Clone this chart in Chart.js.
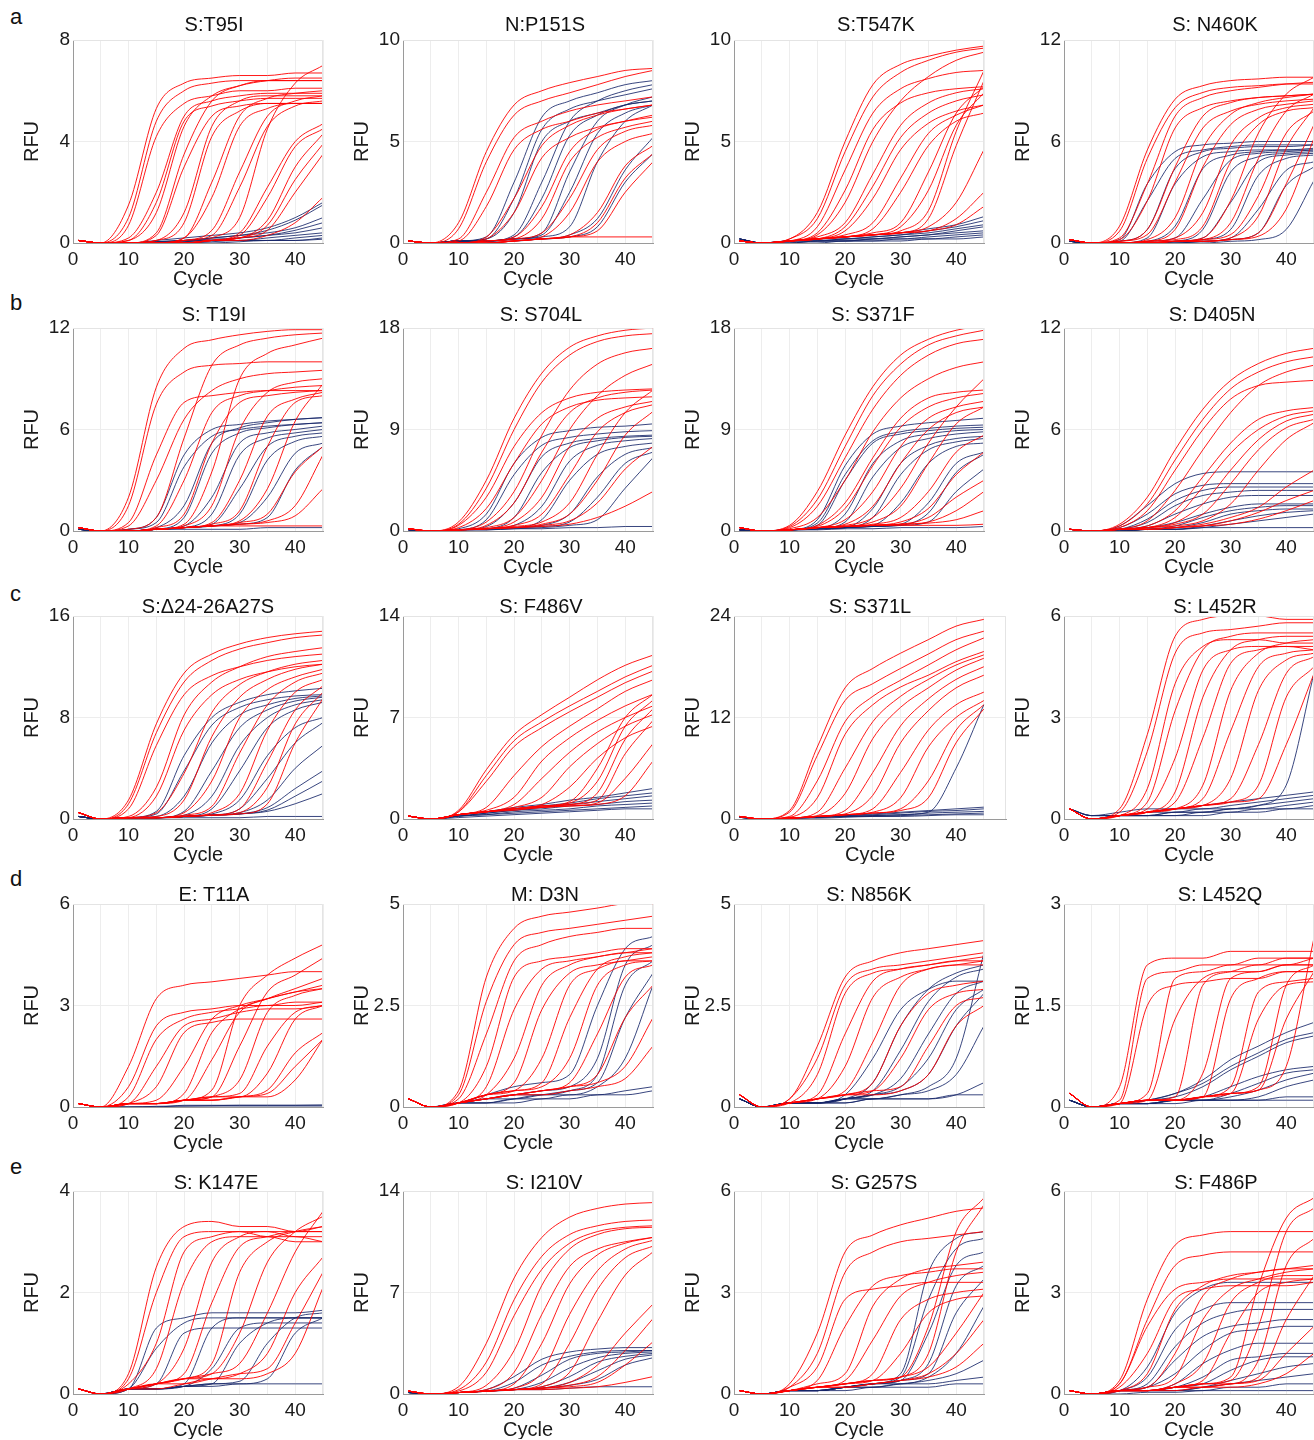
<!DOCTYPE html>
<html>
<head>
<meta charset="utf-8">
<script src="https://cdn.jsdelivr.net/npm/chart.js@4.4.0/dist/chart.umd.min.js"></script>
<style>
  body { margin: 0; background: #fff; font-family: "Liberation Sans", Arial, sans-serif; }
  #fig { position: relative; width: 1314px; height: 1440px; overflow: hidden; }
  #fig canvas { position: absolute; }
  .tag { position: absolute; font-size: 22px; color: #111; }
</style>
</head>
<body>
<div id="fig">
  <div class="tag" style="left:10px;top:4px">a</div>
  <div class="tag" style="left:10px;top:290px">b</div>
  <div class="tag" style="left:10px;top:581px">c</div>
  <div class="tag" style="left:10px;top:866px">d</div>
  <div class="tag" style="left:10px;top:1154px">e</div>
</div>
<script>
const cycles = [1, 5, 10, 15, 20, 25, 30, 35, 40, 45];

const titles = ['S:T95I', 'N:P151S', 'S:T547K', 'S: N460K',
  'S: T19I', 'S: S704L', 'S: S371F', 'S: D405N',
  'S:\u039424-26A27S', 'S: F486V', 'S: S371L', 'S: L452R',
  'E: T11A', 'M: D3N', 'S: N856K', 'S: L452Q',
  'S: K147E', 'S: I210V', 'S: G257S', 'S: F486P'];
const yMaxes = [8, 10, 10, 12, 12, 18, 18, 12, 16, 14, 24, 6, 6, 5, 5, 3, 4, 14, 6, 6];
const xTicks = [0, 10, 20, 30, 40];

// ---- row a ----
const t95iRed = [
  [0.1,0,1.5,5.3,6.3,6.5,6.6,6.6,6.7,6.7],
  [0.1,0,1.0,4.8,6.0,6.3,6.4,6.4,6.4,6.4],
  [0.1,0,0.7,4.2,5.5,5.8,6.0,6.0,6.1,6.1],
  [0.1,0,0.2,2.0,5.0,5.6,5.8,5.9,5.9,5.9],
  [0.1,0,0.1,1.6,4.8,5.4,5.6,5.7,5.7,5.7],
  [0.1,0,0.1,1.2,4.6,5.8,6.2,6.4,6.5,6.5],
  [0.1,0,0,0.4,3.5,5.6,6.2,6.4,6.4,6.4],
  [0.1,0,0,0.3,3.0,5.0,5.4,5.5,5.5,5.5],
  [0.1,0,0,0.1,1.2,4.6,5.6,5.8,5.8,5.8],
  [0.1,0,0,0.1,0.8,4.2,5.2,5.5,5.5,5.5],
  [0.1,0,0,0,0.2,2.4,5.0,5.7,5.9,6.0],
  [0.1,0,0,0,0.2,1.8,4.6,5.3,5.5,5.5],
  [0.1,0,0,0,0.1,0.5,2.8,5.0,5.6,5.8],
  [0.1,0,0,0,0.1,0.3,2.2,4.6,5.4,5.6],
  [0.1,0,0,0,0,0.2,1.0,4.5,6.3,7.0],
  [0.1,0,0,0,0,0.1,0.4,2.2,4.0,4.7],
  [0.1,0,0,0,0,0.1,0.3,1.8,3.8,4.5],
  [0.1,0,0,0,0,0.1,0.2,0.9,3.0,4.3],
  [0.1,0,0,0,0,0.1,0.2,0.7,2.5,3.9],
  [0.1,0,0,0,0,0.1,0.2,0.5,2.0,3.5],
  [0.1,0,0,0,0,0.1,0.1,0.3,0.8,1.8]
];
const t95iNavy = [
  [0.1,0,0,0.1,0.2,0.3,0.4,0.6,1.0,1.6],
  [0.1,0,0,0.05,0.1,0.2,0.3,0.5,0.9,1.5],
  [0.1,0,0,0.05,0.1,0.2,0.3,0.4,0.6,1.0],
  [0.1,0,0,0.05,0.1,0.15,0.2,0.3,0.5,0.8],
  [0.1,0,0,0,0.1,0.1,0.2,0.3,0.4,0.6],
  [0.1,0,0,0,0.05,0.1,0.1,0.2,0.3,0.4],
  [0.1,0,0,0,0.05,0.1,0.1,0.1,0.2,0.3],
  [0.1,0,0,0,0,0.05,0.1,0.1,0.1,0.2],
  [0.1,0,0,0,0,0,0.05,0.1,0.1,0.15]
];

const p151sRed = [
  [0.1,0,1.0,4.5,6.8,7.5,7.9,8.2,8.5,8.6],
  [0.1,0,0.7,4.0,6.3,7.0,7.4,7.8,8.2,8.5],
  [0.1,0,0.2,2.5,5.2,6.0,6.5,6.8,7.0,7.2],
  [0.1,0,0.1,1.8,4.6,5.6,6.0,6.4,6.6,6.8],
  [0.1,0,0,0.3,2.2,4.8,5.8,6.3,6.6,6.8],
  [0.1,0,0,0.2,1.5,4.2,5.2,5.7,6.0,6.2],
  [0.1,0,0,0.1,0.3,1.8,4.5,5.6,6.0,6.3],
  [0.1,0,0,0.1,0.2,1.2,4.0,5.2,5.7,6.0],
  [0.1,0,0,0.1,0.2,0.5,2.2,4.6,5.5,5.8],
  [0.1,0,0,0,0.1,0.3,1.5,4.0,5.0,5.4],
  [0.1,0,0,0,0.1,0.2,0.4,1.5,3.8,4.8],
  [0.1,0,0,0,0.1,0.2,0.3,1.0,3.2,4.4],
  [0.1,0,0,0,0.1,0.2,0.3,0.6,2.5,4.0],
  [0.1,0,0,0,0.1,0.2,0.3,0.3,0.3,0.3]
];
const p151sNavy = [
  [0.1,0,0.1,0.3,3.0,6.2,7.0,7.4,7.8,8.0],
  [0.1,0,0.1,0.2,2.2,5.6,6.6,7.0,7.3,7.6],
  [0.1,0,0.1,0.2,1.5,5.0,6.0,6.4,6.8,7.0],
  [0.1,0,0.1,0.1,0.4,3.0,6.0,7.0,7.5,7.8],
  [0.1,0,0.1,0.1,0.3,2.2,5.3,6.3,6.8,7.0],
  [0.1,0,0.1,0.1,0.2,0.5,3.5,6.0,6.8,7.2],
  [0.1,0,0.1,0.1,0.2,0.4,2.5,5.4,6.4,6.8],
  [0.1,0,0.1,0.1,0.2,0.3,0.8,4.0,6.0,6.8],
  [0.1,0,0.1,0.1,0.2,0.2,0.4,1.2,3.6,5.2],
  [0.1,0,0.1,0.1,0.1,0.2,0.3,0.8,3.0,4.4]
];

const t547kRed = [
  [0.1,0,0.2,1.5,5.0,7.8,8.8,9.2,9.5,9.7],
  [0.1,0,0.2,1.2,4.5,7.2,8.4,9.0,9.4,9.6],
  [0.1,0,0.1,0.8,3.6,6.4,7.6,8.1,8.4,8.5],
  [0.1,0,0.1,0.5,2.6,5.6,6.9,7.4,7.6,7.7],
  [0.1,0,0.1,0.4,2.0,5.0,7.0,8.2,9.0,9.4],
  [0.1,0,0.1,0.3,1.0,3.4,5.8,6.9,7.4,7.6],
  [0.1,0,0.1,0.2,0.8,2.8,5.2,6.4,7.0,7.3],
  [0.1,0,0.1,0.2,0.6,2.2,4.6,5.9,6.5,6.8],
  [0.1,0,0.1,0.2,0.4,1.0,3.2,5.4,6.3,6.8],
  [0.1,0,0.1,0.2,0.3,0.7,2.5,4.8,6.0,6.4],
  [0.1,0,0.1,0.2,0.3,0.5,1.0,3.5,6.4,7.7],
  [0.1,0,0.1,0.2,0.3,0.4,0.8,2.6,5.8,7.4],
  [0.1,0,0.1,0.2,0.3,0.4,0.6,1.6,5.5,8.5],
  [0.1,0,0.1,0.2,0.3,0.4,0.5,1.2,4.8,8.0],
  [0.1,0,0.1,0.2,0.3,0.4,0.5,0.8,2.0,4.6],
  [0.1,0,0.1,0.2,0.3,0.4,0.5,0.6,1.2,2.5],
  [0.1,0,0.1,0.2,0.3,0.4,0.5,0.6,0.9,1.8]
];
const t547kNavy = [
  [0.2,0,0.1,0.2,0.3,0.4,0.5,0.7,0.9,1.3],
  [0.2,0,0.1,0.2,0.2,0.3,0.4,0.6,0.8,1.1],
  [0.2,0,0.1,0.1,0.2,0.3,0.4,0.5,0.7,0.9],
  [0.2,0,0.1,0.1,0.2,0.2,0.3,0.4,0.6,0.8],
  [0.2,0,0.1,0.1,0.1,0.2,0.3,0.4,0.5,0.6],
  [0.2,0,0,0.1,0.1,0.2,0.2,0.3,0.4,0.5],
  [0.2,0,0,0.1,0.1,0.1,0.2,0.2,0.3,0.4],
  [0.2,0,0,0,0.1,0.1,0.1,0.2,0.2,0.3]
];

const n460kRed = [
  [0.2,0,1.0,5.5,8.5,9.3,9.6,9.7,9.8,9.8],
  [0.2,0,0.7,5.0,8.0,8.9,9.2,9.3,9.4,9.4],
  [0.2,0,0.3,3.5,7.5,8.6,9.0,9.2,9.4,9.5],
  [0.2,0,0.2,2.5,6.8,8.0,8.4,8.6,8.7,8.8],
  [0.2,0,0.1,0.8,4.5,7.5,8.3,8.6,8.7,8.8],
  [0.2,0,0.1,0.5,3.6,6.8,7.8,8.2,8.4,8.5],
  [0.2,0,0,0.2,1.5,5.6,7.6,8.3,8.6,8.8],
  [0.2,0,0,0.1,0.8,4.5,7.0,7.9,8.2,8.4],
  [0.2,0,0,0.1,0.3,1.8,5.8,7.4,8.0,8.2],
  [0.2,0,0,0.1,0.2,1.0,4.8,7.0,7.8,8.0],
  [0.2,0,0,0,0.1,0.3,2.5,6.5,8.8,9.8],
  [0.2,0,0,0,0.1,0.2,1.2,5.0,7.8,8.8],
  [0.2,0,0,0,0.1,0.2,0.5,2.8,6.5,7.8],
  [0.2,0,0,0,0.1,0.1,0.3,1.6,5.6,8.0],
  [0.2,0,0,0,0.1,0.1,0.2,0.6,3.5,7.0],
  [0.2,0,0,0,0.1,0.1,0.2,0.4,2.0,6.2]
];
const n460kNavy = [
  [0.1,0,0.2,3.5,5.4,5.8,5.9,6.0,6.0,6.0],
  [0.1,0,0.1,2.5,5.0,5.5,5.7,5.8,5.8,5.8],
  [0.1,0,0.1,0.8,4.4,5.4,5.6,5.7,5.7,5.8],
  [0.1,0,0,0.3,3.5,5.1,5.4,5.5,5.5,5.6],
  [0.1,0,0,0.1,1.0,4.4,5.2,5.4,5.5,5.5],
  [0.1,0,0,0.1,0.3,2.6,4.9,5.3,5.4,5.5],
  [0.1,0,0,0,0.1,0.8,4.2,5.1,5.3,5.4],
  [0.1,0,0,0,0.1,0.3,2.4,4.8,5.2,5.3],
  [0.1,0,0,0,0.1,0.2,0.8,4.0,5.0,5.2],
  [0.1,0,0,0,0,0.1,0.3,2.0,4.3,4.8],
  [0.1,0,0,0,0,0.1,0.2,0.6,3.4,4.5],
  [0.1,0,0,0,0,0,0.1,0.2,0.8,3.7]
];

// ---- row b ----
const t19iRed = [
  [0.2,0,2.0,8.5,10.8,11.3,11.6,11.8,11.9,11.9],
  [0.2,0,1.5,7.5,9.4,9.8,9.9,10.0,10.0,10.0],
  [0.2,0,0.5,4.5,7.6,8.0,8.2,8.3,8.3,8.3],
  [0.2,0,0.3,3.0,6.6,8.3,9.0,9.3,9.4,9.5],
  [0.2,0,0.1,0.8,5.5,9.8,11.0,11.4,11.6,11.7],
  [0.2,0,0,0.3,3.0,7.0,8.0,8.3,8.5,8.6],
  [0.2,0,0,0.2,1.0,5.2,7.6,8.0,8.2,8.3],
  [0.2,0,0,0.1,0.4,3.5,9.0,10.5,11.0,11.4],
  [0.2,0,0,0.1,0.3,1.5,6.0,8.2,8.8,9.0],
  [0.2,0,0,0.1,0.2,0.5,3.0,6.8,7.8,8.2],
  [0.2,0,0,0.1,0.2,0.4,1.2,5.0,7.6,8.0],
  [0.2,0,0,0.1,0.2,0.3,0.6,2.5,6.5,8.7],
  [0.2,0,0,0.1,0.2,0.3,0.5,1.0,3.5,5.0],
  [0.2,0,0,0.1,0.2,0.3,0.4,0.6,1.5,4.5],
  [0.2,0,0,0.1,0.2,0.3,0.4,0.5,0.9,2.5],
  [0.2,0,0,0.1,0.2,0.3,0.3,0.3,0.3,0.3]
];
const t19iNavy = [
  [0.1,0,0.1,0.8,4.5,6.0,6.3,6.5,6.6,6.7],
  [0.1,0,0.1,0.5,3.8,5.6,6.0,6.2,6.3,6.4],
  [0.1,0,0,0.2,1.5,5.2,6.1,6.4,6.6,6.7],
  [0.1,0,0,0.1,0.8,4.6,5.8,6.1,6.3,6.4],
  [0.1,0,0,0.1,0.3,2.0,5.2,5.8,6.0,6.2],
  [0.1,0,0,0.1,0.2,1.0,4.5,5.5,5.8,6.0],
  [0.1,0,0,0.1,0.2,0.4,2.5,5.0,5.6,5.8],
  [0.1,0,0,0.1,0.2,0.3,1.0,4.2,5.3,5.6],
  [0.1,0,0,0.1,0.2,0.3,0.5,2.0,4.6,5.2],
  [0.1,0,0,0.1,0.2,0.3,0.4,0.8,3.6,5.0],
  [0.1,0,0,0.1,0.1,0.1,0.1,0.2,0.2,0.2]
];

const s704lRed = [
  [0.2,0,0.8,4.5,10.0,14.0,16.3,17.3,17.8,18.0],
  [0.2,0,0.6,3.8,9.0,13.2,15.6,16.8,17.3,17.5],
  [0.2,0,0.5,3.0,7.5,10.5,11.8,12.3,12.5,12.6],
  [0.2,0,0.3,2.0,6.0,9.5,11.0,11.6,11.8,11.9],
  [0.2,0,0.1,0.8,3.5,8.5,12.5,14.8,15.8,16.2],
  [0.2,0,0.1,0.5,2.5,7.0,10.5,11.8,12.3,12.5],
  [0.2,0,0.1,0.3,1.2,4.5,9.0,12.0,13.8,14.8],
  [0.2,0,0.1,0.2,0.8,3.0,7.5,10.0,11.0,11.5],
  [0.2,0,0.1,0.2,0.5,1.5,5.0,8.8,10.5,11.2],
  [0.2,0,0.1,0.2,0.4,0.8,2.5,6.8,10.5,12.5],
  [0.2,0,0.1,0.2,0.3,0.6,1.5,4.5,8.5,10.6],
  [0.2,0,0.1,0.2,0.3,0.5,0.9,2.5,5.5,7.5],
  [0.2,0,0.1,0.2,0.3,0.4,0.6,1.2,2.2,3.5]
];
const s704lNavy = [
  [0.1,0,0.2,1.5,6.0,8.3,8.9,9.2,9.3,9.5],
  [0.1,0,0.1,1.0,5.0,7.6,8.3,8.6,8.8,8.9],
  [0.1,0,0.1,0.4,2.5,6.6,7.8,8.2,8.4,8.5],
  [0.1,0,0.1,0.2,1.2,5.2,7.4,8.0,8.3,8.4],
  [0.1,0,0.1,0.2,0.5,2.2,6.2,7.6,8.0,8.2],
  [0.1,0,0.1,0.2,0.3,1.0,4.5,6.8,7.5,7.8],
  [0.1,0,0.1,0.2,0.3,0.5,1.5,4.8,6.8,7.4],
  [0.1,0,0.1,0.2,0.3,0.4,0.8,3.0,6.0,7.0],
  [0.1,0,0.1,0.1,0.2,0.3,0.5,1.0,3.8,6.5],
  [0.1,0,0.1,0.1,0.2,0.2,0.3,0.3,0.4,0.4]
];

const s371fRed = [
  [0.3,0,0.5,3.5,8.5,12.8,15.6,17.0,17.8,18.2],
  [0.3,0,0.4,2.8,7.5,12.0,14.8,16.5,17.3,17.8],
  [0.3,0,0.3,2.2,6.5,10.8,13.8,15.6,16.6,17.0],
  [0.3,0,0.2,1.2,4.5,8.8,11.8,13.5,14.5,15.0],
  [0.3,0,0.1,0.5,2.5,6.5,10.0,11.8,12.3,12.5],
  [0.3,0,0.1,0.4,2.0,5.8,9.2,11.0,11.8,12.2],
  [0.3,0,0.1,0.3,1.0,3.5,7.5,10.0,11.0,11.5],
  [0.3,0,0.1,0.3,0.6,2.2,6.0,9.0,10.5,11.0],
  [0.3,0,0.1,0.3,0.5,1.2,3.8,7.8,11.0,13.5],
  [0.3,0,0.1,0.3,0.4,0.8,2.2,6.0,9.5,11.0],
  [0.3,0,0.1,0.3,0.4,0.6,1.2,3.5,7.0,8.5],
  [0.3,0,0.1,0.3,0.4,0.5,0.8,2.0,5.0,7.0],
  [0.3,0,0.1,0.3,0.4,0.5,0.6,1.2,3.0,4.5],
  [0.3,0,0.1,0.3,0.4,0.5,0.6,0.8,1.8,3.5],
  [0.3,0,0.1,0.3,0.4,0.5,0.6,0.7,1.0,1.8],
  [0.3,0,0.1,0.3,0.4,0.5,0.5,0.5,0.5,0.6]
];
const s371fNavy = [
  [0.1,0,0.1,1.0,5.8,8.6,9.3,9.6,9.8,10.0],
  [0.1,0,0.1,0.7,5.0,8.0,8.8,9.1,9.3,9.4],
  [0.1,0,0.1,0.5,4.5,7.8,8.6,8.9,9.1,9.2],
  [0.1,0,0.1,0.2,1.5,6.0,8.0,8.6,8.9,9.0],
  [0.1,0,0.1,0.2,0.8,4.8,7.4,8.2,8.6,8.8],
  [0.1,0,0.1,0.2,0.3,2.0,6.0,7.6,8.2,8.4],
  [0.1,0,0.1,0.2,0.3,1.2,5.0,7.2,7.9,8.2],
  [0.1,0,0.1,0.2,0.3,0.5,2.5,6.0,7.5,7.8],
  [0.1,0,0.1,0.2,0.3,0.4,0.6,2.5,6.0,7.0],
  [0.1,0,0.1,0.2,0.3,0.4,0.5,1.6,5.2,6.8],
  [0.1,0,0.1,0.2,0.3,0.4,0.5,0.8,3.5,5.5],
  [0.1,0,0.1,0.1,0.2,0.2,0.3,0.3,0.3,0.4]
];

const d405nRed = [
  [0.1,0,0.4,2.0,4.8,7.2,8.9,9.9,10.5,10.8],
  [0.1,0,0.3,1.6,4.2,6.6,8.4,9.4,10.0,10.3],
  [0.1,0,0.2,1.2,3.6,6.0,7.8,8.6,8.8,8.9],
  [0.1,0,0.1,0.6,2.4,4.8,7.0,8.6,9.4,9.8],
  [0.1,0,0.1,0.3,1.2,3.2,5.2,6.6,7.1,7.3],
  [0.1,0,0.1,0.2,0.8,2.6,4.6,6.0,6.8,7.1],
  [0.1,0,0.1,0.2,0.5,1.6,3.6,5.4,6.5,6.9],
  [0.1,0,0.1,0.2,0.4,1.0,2.8,4.8,6.1,6.6],
  [0.1,0,0.1,0.2,0.3,0.6,1.6,3.6,5.4,6.4],
  [0.1,0,0.1,0.1,0.2,0.4,0.8,1.4,2.6,3.6],
  [0.1,0,0.1,0.1,0.2,0.3,0.6,1.1,1.8,2.4],
  [0.1,0,0.1,0.1,0.2,0.3,0.4,0.7,1.2,1.8]
];
const d405nNavy = [
  [0.1,0,0.3,1.5,2.8,3.4,3.5,3.5,3.5,3.5],
  [0.1,0,0.2,1.0,2.2,2.7,2.8,2.8,2.8,2.8],
  [0.1,0,0.1,0.7,1.8,2.4,2.6,2.6,2.6,2.6],
  [0.1,0,0.1,0.5,1.5,2.1,2.3,2.4,2.4,2.4],
  [0.1,0,0.1,0.3,1.0,1.6,2.0,2.1,2.1,2.1],
  [0.1,0,0.1,0.2,0.5,1.0,1.4,1.6,1.6,1.6],
  [0.1,0,0,0.1,0.3,0.8,1.2,1.4,1.5,1.5],
  [0.1,0,0,0.1,0.2,0.5,1.0,1.2,1.3,1.3],
  [0.1,0,0,0.1,0.1,0.3,0.6,0.9,1.1,1.2],
  [0.1,0,0,0.1,0.1,0.2,0.4,0.6,0.8,1.0],
  [0.1,0,0,0.1,0.1,0.2,0.2,0.2,0.2,0.2]
];

// ---- row c ----
const del24Red = [
  [0.5,0,1.5,7.5,11.5,13.0,13.8,14.3,14.6,14.8],
  [0.5,0,1.2,6.8,10.8,12.5,13.4,13.9,14.3,14.5],
  [0.5,0,0.8,5.8,9.8,11.3,12.0,12.5,12.8,13.0],
  [0.5,0,0.2,2.5,8.2,10.8,12.0,12.8,13.2,13.5],
  [0.5,0,0.1,1.8,7.0,9.8,11.0,11.6,12.0,12.2],
  [0.5,0,0.1,0.5,3.6,8.4,10.6,11.6,12.2,12.5],
  [0.5,0,0.1,0.2,1.5,6.5,9.6,11.0,11.8,12.2],
  [0.5,0,0.1,0.1,0.5,3.0,8.0,10.2,11.2,11.8],
  [0.5,0,0.1,0.1,0.3,1.0,5.2,9.0,10.8,11.5],
  [0.5,0,0.1,0.1,0.2,0.5,2.0,7.0,10.0,11.0],
  [0.5,0,0.1,0.1,0.2,0.3,0.8,4.5,8.6,10.5],
  [0.5,0,0.1,0.1,0.2,0.3,0.5,2.5,7.5,10.0],
  [0.5,0,0.1,0.1,0.2,0.3,0.4,1.2,6.0,9.5]
];
const del24Navy = [
  [0.2,0,0.1,0.6,5.0,8.0,9.2,9.8,10.1,10.3],
  [0.2,0,0.1,0.4,3.8,7.4,8.8,9.4,9.7,9.8],
  [0.2,0,0.1,0.2,1.8,6.0,8.2,9.0,9.5,9.7],
  [0.2,0,0.1,0.1,0.6,3.8,7.2,8.6,9.3,9.6],
  [0.2,0,0.1,0.1,0.3,1.8,5.8,8.0,9.0,9.4],
  [0.2,0,0.1,0.1,0.2,0.8,3.8,7.2,8.6,9.2],
  [0.2,0,0.1,0.1,0.2,0.4,1.5,5.0,7.2,8.0],
  [0.2,0,0.1,0.1,0.2,0.3,0.8,3.2,6.0,7.6],
  [0.2,0,0.1,0.1,0.2,0.3,0.5,1.5,4.0,5.8],
  [0.2,0,0.1,0.1,0.2,0.3,0.4,0.9,2.4,3.8],
  [0.2,0,0.1,0.1,0.2,0.3,0.4,0.7,1.8,3.0],
  [0.2,0,0.1,0.1,0.2,0.3,0.4,0.6,1.2,2.0],
  [0.2,0,0.1,0.1,0.1,0.1,0.1,0.2,0.2,0.2]
];

const f486vRed = [
  [0.2,0,0.6,3.4,5.8,7.2,8.4,9.6,10.6,11.3],
  [0.2,0,0.5,3.0,5.4,6.7,7.8,8.8,9.8,10.6],
  [0.2,0,0.5,2.6,5.0,6.3,7.4,8.4,9.4,10.2],
  [0.2,0,0.3,0.8,3.0,5.0,6.4,7.6,8.8,9.6],
  [0.2,0,0.3,0.6,1.5,4.0,5.6,6.8,7.8,8.6],
  [0.2,0,0.3,0.5,1.0,2.8,4.6,6.0,7.0,7.8],
  [0.2,0,0.3,0.5,0.8,1.5,3.6,5.2,6.4,7.2],
  [0.2,0,0.3,0.5,0.7,1.0,2.2,4.2,5.6,6.4],
  [0.2,0,0.3,0.5,0.7,0.9,1.2,3.5,7.0,8.6],
  [0.2,0,0.3,0.5,0.7,0.9,1.1,2.6,6.4,8.2],
  [0.2,0,0.3,0.5,0.7,0.9,1.0,1.8,5.5,7.6],
  [0.2,0,0.3,0.5,0.7,0.8,1.0,1.3,4.5,6.8],
  [0.2,0,0.3,0.5,0.7,0.8,0.9,1.1,2.8,5.2],
  [0.2,0,0.3,0.5,0.6,0.8,0.9,1.0,1.6,4.0]
];
const f486vNavy = [
  [0.2,0,0.3,0.5,0.8,1.0,1.3,1.5,1.8,2.1],
  [0.2,0,0.3,0.5,0.7,0.9,1.1,1.4,1.6,1.8],
  [0.2,0,0.2,0.4,0.6,0.8,1.0,1.2,1.4,1.6],
  [0.2,0,0.2,0.4,0.6,0.7,0.9,1.0,1.2,1.3],
  [0.2,0,0.2,0.3,0.5,0.6,0.7,0.9,1.0,1.1],
  [0.2,0,0.2,0.3,0.4,0.5,0.6,0.7,0.8,0.9],
  [0.2,0,0.1,0.2,0.3,0.4,0.5,0.6,0.7,0.7]
];

const s371lRed = [
  [0.3,0,1.0,8.5,15.5,17.8,19.6,21.2,22.8,23.6],
  [0.3,0,0.8,7.5,14.0,16.0,17.8,19.5,21.2,22.2],
  [0.3,0,0.3,4.5,11.5,14.5,16.4,18.2,20.0,21.4],
  [0.3,0,0.2,2.5,10.0,13.5,15.6,17.0,18.6,19.8],
  [0.3,0,0.1,0.8,6.0,11.5,14.5,16.5,18.2,19.4],
  [0.3,0,0.1,0.4,3.0,9.5,13.2,15.5,17.6,19.0],
  [0.3,0,0.1,0.3,1.0,5.5,11.0,14.2,16.5,18.0],
  [0.3,0,0.1,0.3,0.6,2.8,9.0,12.8,15.5,17.0],
  [0.3,0,0.1,0.3,0.5,1.2,5.5,10.5,13.5,15.0],
  [0.3,0,0.1,0.3,0.5,0.8,2.5,8.5,12.0,14.0],
  [0.3,0,0.1,0.3,0.5,0.7,1.2,4.5,10.5,13.5],
  [0.3,0,0.1,0.3,0.5,0.7,1.0,2.5,9.0,13.0]
];
const s371lNavy = [
  [0.2,0,0.1,0.3,0.4,0.6,0.8,1.0,1.2,1.4],
  [0.2,0,0.1,0.2,0.4,0.5,0.7,0.9,1.0,1.2],
  [0.2,0,0.1,0.2,0.3,0.4,0.5,0.7,0.8,0.9],
  [0.2,0,0.1,0.2,0.3,0.3,0.4,0.5,0.6,0.7],
  [0.2,0,0.1,0.1,0.2,0.3,0.3,0.4,0.5,0.5],
  [0.2,0,0.1,0.2,0.3,0.4,0.5,0.8,6.0,13.5]
];

const l452rRed = [
  [0.3,0,0.3,2.5,5.4,5.9,6.0,6.0,5.9,5.9],
  [0.3,0,0.2,2.0,4.9,5.5,5.6,5.7,5.8,5.8],
  [0.3,0,0.1,0.9,4.0,5.1,5.3,5.3,5.2,5.2],
  [0.3,0,0.1,0.5,3.2,5.0,5.4,5.5,5.5,5.5],
  [0.3,0,0.1,0.3,1.8,4.4,5.0,5.1,5.1,5.0],
  [0.3,0,0.1,0.2,0.8,3.6,5.0,5.3,5.4,5.4],
  [0.3,0,0.1,0.2,0.5,2.4,4.6,5.0,5.1,5.1],
  [0.3,0,0.1,0.2,0.3,1.0,3.8,4.9,5.2,5.3],
  [0.3,0,0.1,0.2,0.3,0.6,2.6,4.5,4.9,5.0],
  [0.3,0,0.1,0.2,0.3,0.4,1.2,3.8,4.7,4.9],
  [0.3,0,0.1,0.2,0.3,0.4,0.6,2.2,4.3,4.8],
  [0.3,0,0.1,0.2,0.3,0.4,0.5,1.0,3.6,4.5],
  [0.3,0,0.1,0.2,0.3,0.4,0.5,0.6,2.2,4.3]
];
const l452rNavy = [
  [0.3,0.1,0.2,0.3,0.3,0.4,0.5,0.6,0.7,0.8],
  [0.3,0.1,0.1,0.2,0.3,0.3,0.4,0.5,0.6,0.7],
  [0.3,0.1,0.1,0.2,0.2,0.3,0.3,0.4,0.5,0.6],
  [0.3,0.1,0.1,0.1,0.2,0.2,0.3,0.3,0.4,0.5],
  [0.3,0,0.1,0.1,0.1,0.2,0.2,0.3,0.3,0.4],
  [0.3,0,0.1,0.1,0.1,0.1,0.2,0.2,0.3,0.3],
  [0.3,0,0.1,0.1,0.2,0.2,0.3,0.4,1.0,4.3]
];

// ---- row d ----
const t11aRed = [
  [0.1,0,1.2,3.2,3.6,3.7,3.8,3.9,4.0,4.0],
  [0.1,0,0.6,2.4,2.8,2.9,3.0,3.0,3.1,3.1],
  [0.1,0,0.3,2.0,2.6,2.8,2.9,3.0,3.0,3.1],
  [0.1,0,0.1,1.2,2.4,2.6,2.8,2.9,2.9,3.0],
  [0.1,0,0.1,0.6,2.2,2.5,2.6,2.6,2.6,2.6],
  [0.1,0,0.1,0.2,1.2,2.6,3.0,3.2,3.4,3.5],
  [0.1,0,0.1,0.1,0.4,2.2,2.9,3.2,3.4,3.6],
  [0.1,0,0.1,0.1,0.2,1.4,2.8,3.2,3.5,3.8],
  [0.1,0,0.1,0.1,0.2,0.5,3.0,3.9,4.4,4.8],
  [0.1,0,0.1,0.1,0.2,0.3,1.8,3.4,3.9,4.4],
  [0.1,0,0.1,0.1,0.2,0.3,0.8,2.8,3.3,3.5],
  [0.1,0,0.1,0.1,0.2,0.3,0.4,1.8,2.8,3.0],
  [0.1,0,0.1,0.1,0.2,0.3,0.3,1.0,2.6,3.0],
  [0.1,0,0.1,0.1,0.2,0.2,0.3,0.5,1.6,2.2],
  [0.1,0,0.1,0.1,0.2,0.2,0.3,0.4,1.2,2.0],
  [0.1,0,0.1,0.1,0.2,0.2,0.3,0.3,0.8,2.0]
];
const t11aNavy = [
  [0.1,0,0,0,0.05,0.05,0.05,0.05,0.05,0.05],
  [0.1,0,0,0,0,0,0,0,0,0],
  [0.1,0,0,0.02,0.03,0.04,0.05,0.05,0.05,0.06]
];

const d3nRed = [
  [0.2,0,0.4,3.2,4.4,4.7,4.8,4.9,5.0,5.0],
  [0.2,0,0.3,2.6,4.0,4.3,4.4,4.5,4.6,4.7],
  [0.2,0,0.2,1.8,3.6,4.0,4.2,4.3,4.4,4.4],
  [0.2,0,0.1,1.0,3.2,3.6,3.7,3.8,3.9,3.9],
  [0.2,0,0.1,0.5,2.4,3.4,3.6,3.7,3.8,3.8],
  [0.2,0,0.1,0.3,1.2,3.0,3.5,3.7,3.8,3.9],
  [0.2,0,0.1,0.3,0.6,2.4,3.3,3.5,3.6,3.7],
  [0.2,0,0.1,0.3,0.4,1.2,3.0,3.4,3.6,3.6],
  [0.2,0,0.1,0.3,0.4,0.6,2.2,3.4,3.7,3.8],
  [0.2,0,0.1,0.3,0.4,0.5,1.2,3.0,3.5,3.6],
  [0.2,0,0.1,0.2,0.3,0.4,0.6,1.8,3.2,3.5],
  [0.2,0,0.1,0.2,0.3,0.4,0.5,0.8,2.2,3.0],
  [0.2,0,0.1,0.2,0.3,0.4,0.5,0.6,1.0,2.2],
  [0.2,0,0.1,0.2,0.3,0.3,0.4,0.5,0.7,1.5]
];
const d3nNavy = [
  [0.2,0,0.1,0.3,0.5,0.6,0.8,2.5,3.9,4.2],
  [0.2,0,0.1,0.2,0.3,0.4,0.5,1.2,3.5,4.0],
  [0.2,0,0.1,0.2,0.3,0.3,0.4,0.8,3.0,3.6],
  [0.2,0,0.1,0.2,0.2,0.3,0.4,0.6,2.2,3.3],
  [0.2,0,0.1,0.1,0.2,0.3,0.3,0.5,1.2,3.0],
  [0.2,0,0.1,0.1,0.2,0.2,0.3,0.3,0.4,0.5],
  [0.2,0,0.1,0.1,0.1,0.2,0.2,0.3,0.3,0.4]
];

const n856kRed = [
  [0.3,0,0.2,1.5,3.2,3.6,3.8,3.9,4.0,4.1],
  [0.3,0,0.2,1.2,3.0,3.4,3.5,3.6,3.7,3.8],
  [0.3,0,0.1,0.8,2.8,3.3,3.4,3.5,3.6,3.7],
  [0.3,0,0.1,0.3,1.8,3.1,3.4,3.5,3.6,3.6],
  [0.3,0,0.1,0.2,1.0,2.7,3.2,3.4,3.5,3.5],
  [0.3,0,0.1,0.2,0.4,1.6,3.0,3.4,3.5,3.6],
  [0.3,0,0.1,0.2,0.3,0.6,2.0,2.8,3.0,3.1],
  [0.3,0,0.1,0.2,0.3,0.4,1.2,2.4,2.8,2.9],
  [0.3,0,0.1,0.2,0.3,0.4,0.5,1.5,2.5,2.7],
  [0.3,0,0.1,0.2,0.3,0.3,0.4,0.8,2.0,2.5]
];
const n856kNavy = [
  [0.2,0,0.1,0.1,0.3,1.2,2.4,2.9,3.1,3.1],
  [0.2,0,0.1,0.1,0.2,0.6,2.0,2.9,3.3,3.5],
  [0.2,0,0.1,0.1,0.2,0.4,1.4,2.6,3.2,3.4],
  [0.2,0,0.1,0.1,0.2,0.3,0.7,1.8,2.8,3.1],
  [0.2,0,0.1,0.1,0.2,0.3,0.5,1.2,2.4,2.9],
  [0.2,0,0.1,0.1,0.2,0.3,0.4,0.8,2.0,2.8],
  [0.2,0,0.1,0.1,0.2,0.2,0.3,0.5,1.2,3.8],
  [0.2,0,0.1,0.1,0.2,0.2,0.3,0.4,0.8,2.0],
  [0.2,0,0.1,0.1,0.1,0.2,0.2,0.2,0.3,0.6],
  [0.2,0,0.1,0.1,0.1,0.2,0.2,0.2,0.3,0.3]
];

const l452qRed = [
  [0.2,0,0.3,2.1,2.2,2.2,2.3,2.3,2.3,2.3],
  [0.2,0,0.1,1.9,2.0,2.1,2.1,2.2,2.2,2.2],
  [0.2,0,0.05,1.5,1.8,1.85,1.9,1.9,2.0,2.0],
  [0.2,0,0.05,0.2,1.9,2.0,2.1,2.1,2.2,2.2],
  [0.2,0,0.05,0.1,1.3,1.9,2.0,2.0,2.1,2.1],
  [0.2,0,0.05,0.1,0.15,1.8,2.0,2.1,2.1,2.2],
  [0.2,0,0.05,0.1,0.1,0.5,1.9,2.0,2.1,2.1],
  [0.2,0,0.05,0.1,0.1,0.15,1.6,1.9,2.0,2.0],
  [0.2,0,0.05,0.1,0.1,0.15,0.3,1.7,1.85,1.9],
  [0.2,0,0.05,0.1,0.1,0.15,0.2,1.3,1.8,1.85],
  [0.2,0,0.05,0.1,0.1,0.15,0.2,0.3,1.8,2.1],
  [0.2,0,0.05,0.1,0.1,0.15,0.2,0.25,1.3,2.0],
  [0.2,0,0.05,0.1,0.1,0.15,0.2,0.25,0.6,2.5]
];
const l452qNavy = [
  [0.1,0,0.05,0.1,0.2,0.4,0.7,0.9,1.1,1.25],
  [0.1,0,0.05,0.1,0.2,0.35,0.6,0.8,1.0,1.1],
  [0.1,0,0.05,0.1,0.15,0.3,0.55,0.75,0.95,1.05],
  [0.1,0,0.05,0.05,0.1,0.15,0.3,0.45,0.55,0.6],
  [0.1,0,0.05,0.05,0.1,0.1,0.2,0.35,0.5,0.55],
  [0.1,0,0.05,0.05,0.1,0.1,0.15,0.25,0.4,0.5],
  [0.1,0,0.05,0.05,0.1,0.1,0.1,0.15,0.3,0.4],
  [0.1,0,0.05,0.05,0.1,0.1,0.1,0.1,0.15,0.15],
  [0.1,0,0.05,0.05,0.05,0.1,0.1,0.1,0.1,0.1]
];

// ---- row e ----
const k147eRed = [
  [0.1,0,0.4,2.5,3.3,3.4,3.3,3.3,3.2,3.2],
  [0.1,0,0.3,2.0,3.1,3.2,3.2,3.1,3.1,3.0],
  [0.1,0,0.2,1.0,2.8,3.1,3.2,3.2,3.1,3.1],
  [0.1,0,0.1,0.5,2.2,3.0,3.1,3.1,3.0,3.0],
  [0.1,0,0.1,0.2,0.9,2.6,3.1,3.2,3.2,3.3],
  [0.1,0,0.1,0.2,0.4,1.8,2.9,3.1,3.2,3.2],
  [0.1,0,0.1,0.2,0.3,0.6,2.4,3.0,3.2,3.3],
  [0.1,0,0.1,0.2,0.3,0.4,1.2,2.6,3.2,3.5],
  [0.1,0,0.1,0.2,0.3,0.4,0.6,1.6,2.8,3.6],
  [0.1,0,0.1,0.2,0.3,0.3,0.4,0.8,2.0,2.7],
  [0.1,0,0.1,0.2,0.2,0.3,0.4,0.5,1.4,2.4],
  [0.1,0,0.1,0.1,0.2,0.3,0.3,0.4,0.8,2.1]
];
const k147eNavy = [
  [0.1,0,0.1,1.3,1.5,1.6,1.6,1.6,1.6,1.65],
  [0.1,0,0.1,0.9,1.4,1.5,1.5,1.5,1.5,1.5],
  [0.1,0,0.1,0.2,1.2,1.3,1.3,1.3,1.3,1.3],
  [0.1,0,0.1,0.1,0.2,1.3,1.5,1.5,1.5,1.5],
  [0.1,0,0.1,0.1,0.15,0.5,1.3,1.4,1.4,1.4],
  [0.1,0,0.1,0.1,0.15,0.2,1.0,1.4,1.5,1.5],
  [0.1,0,0.1,0.1,0.15,0.2,0.25,1.0,1.5,1.6],
  [0.1,0,0.1,0.1,0.15,0.2,0.2,0.3,1.2,1.5],
  [0.1,0,0.1,0.1,0.15,0.15,0.2,0.2,0.2,0.2]
];

const i210vRed = [
  [0.2,0,0.5,3.5,8.0,10.8,12.2,12.8,13.1,13.2],
  [0.2,0,0.3,2.2,6.5,9.5,11.0,11.6,11.9,12.0],
  [0.2,0,0.2,1.5,5.4,8.6,10.4,11.2,11.5,11.6],
  [0.2,0,0.1,0.6,3.0,7.5,10.0,11.0,11.4,11.5],
  [0.2,0,0.1,0.3,1.5,5.5,8.8,10.0,10.5,10.8],
  [0.2,0,0.1,0.2,0.7,3.5,7.6,9.6,10.4,10.8],
  [0.2,0,0.1,0.2,0.4,1.5,5.5,8.5,10.0,10.6],
  [0.2,0,0.1,0.2,0.3,0.7,3.5,7.2,9.4,10.2],
  [0.2,0,0.1,0.2,0.3,0.5,1.5,5.0,8.2,9.8],
  [0.2,0,0.1,0.2,0.3,0.4,0.8,2.0,4.2,6.2],
  [0.2,0,0.1,0.2,0.3,0.4,0.6,1.2,3.0,5.2],
  [0.2,0,0.1,0.2,0.3,0.4,0.5,0.8,2.0,3.6],
  [0.2,0,0.1,0.2,0.3,0.3,0.4,0.5,0.8,1.2]
];
const i210vNavy = [
  [0.1,0,0.1,0.3,1.2,2.4,2.9,3.1,3.2,3.2],
  [0.1,0,0.1,0.2,0.8,2.0,2.6,2.9,3.0,3.0],
  [0.1,0,0.1,0.2,0.4,1.3,2.4,2.8,2.9,3.0],
  [0.1,0,0.1,0.2,0.3,0.8,1.8,2.5,2.8,2.9],
  [0.1,0,0.1,0.2,0.3,0.5,1.2,2.2,2.6,2.8],
  [0.1,0,0.1,0.2,0.3,0.4,0.8,1.6,2.4,2.7],
  [0.1,0,0.1,0.2,0.3,0.4,0.6,1.0,2.0,2.5],
  [0.1,0,0.1,0.2,0.3,0.3,0.4,0.5,0.5,0.5]
];

const g257sRed = [
  [0.1,0,0.3,1.8,4.2,4.7,5.0,5.2,5.4,5.5],
  [0.1,0,0.2,1.2,3.6,4.2,4.5,4.6,4.7,4.8],
  [0.1,0,0.2,0.8,2.8,3.1,3.2,3.3,3.3,3.3],
  [0.1,0,0.1,0.4,2.0,3.2,3.5,3.6,3.7,3.7],
  [0.1,0,0.1,0.3,0.6,2.6,3.4,3.7,3.8,3.9],
  [0.1,0,0.1,0.2,0.4,1.6,2.9,3.3,3.5,3.6],
  [0.1,0,0.1,0.2,0.3,0.6,2.2,2.8,3.0,3.1],
  [0.1,0,0.1,0.2,0.3,0.4,1.2,2.4,2.8,2.9],
  [0.1,0,0.1,0.2,0.3,0.4,0.5,2.0,4.8,5.8],
  [0.1,0,0.1,0.2,0.3,0.4,0.5,1.2,4.2,5.6],
  [0.1,0,0.1,0.2,0.3,0.4,0.5,0.8,1.8,3.0],
  [0.1,0,0.1,0.2,0.2,0.3,0.4,0.6,1.2,2.2],
  [0.1,0,0.1,0.2,0.2,0.3,0.4,0.5,0.8,1.5]
];
const g257sNavy = [
  [0.1,0,0.1,0.1,0.2,0.3,0.6,3.6,4.6,4.8],
  [0.1,0,0.1,0.1,0.2,0.3,0.5,2.8,4.3,4.6],
  [0.1,0,0.1,0.1,0.2,0.3,0.4,1.8,3.8,4.2],
  [0.1,0,0.1,0.1,0.2,0.3,0.4,0.9,3.2,3.8],
  [0.1,0,0.1,0.1,0.2,0.3,0.4,0.6,2.4,3.4],
  [0.1,0,0.1,0.1,0.2,0.3,0.3,0.5,1.2,2.6],
  [0.1,0,0.1,0.1,0.2,0.2,0.3,0.4,0.6,1.0],
  [0.1,0,0.1,0.1,0.2,0.2,0.3,0.3,0.4,0.5],
  [0.1,0,0.1,0.1,0.1,0.2,0.2,0.2,0.3,0.3]
];

const f486pRed = [
  [0.1,0,0.4,2.8,4.4,4.7,4.8,4.8,4.8,4.8],
  [0.1,0,0.3,2.2,3.8,4.1,4.2,4.2,4.2,4.2],
  [0.1,0,0.3,2.0,3.1,3.3,3.4,3.4,3.4,3.4],
  [0.1,0,0.2,1.2,2.8,3.1,3.2,3.2,3.2,3.3],
  [0.1,0,0.1,0.6,2.5,3.2,3.5,3.6,3.7,3.7],
  [0.1,0,0.1,0.2,1.2,2.9,3.4,3.6,3.7,3.8],
  [0.1,0,0.1,0.2,0.5,2.2,3.1,3.4,3.6,3.7],
  [0.1,0,0.1,0.1,0.3,0.9,2.7,3.3,3.5,3.5],
  [0.1,0,0.1,0.1,0.2,0.4,1.8,3.0,3.3,3.4],
  [0.1,0,0.1,0.1,0.2,0.3,0.5,3.2,5.2,5.8],
  [0.1,0,0.1,0.1,0.2,0.3,0.4,2.0,4.8,5.5],
  [0.1,0,0.1,0.1,0.2,0.3,0.3,1.0,3.8,4.6],
  [0.1,0,0.1,0.1,0.2,0.2,0.3,0.5,2.2,3.5],
  [0.1,0,0.1,0.1,0.2,0.2,0.3,0.4,1.2,2.0],
  [0.1,0,0.1,0.1,0.1,0.2,0.2,0.3,0.6,1.2]
];
const f486pNavy = [
  [0.1,0,0.1,0.8,2.4,3.1,3.3,3.3,3.3,3.3],
  [0.1,0,0.1,0.5,1.9,2.5,2.7,2.7,2.7,2.7],
  [0.1,0,0.1,0.3,1.4,2.1,2.4,2.5,2.5,2.5],
  [0.1,0,0.1,0.2,1.0,1.7,2.0,2.1,2.2,2.2],
  [0.1,0,0.1,0.2,0.6,1.3,1.8,1.9,2.0,2.0],
  [0.1,0,0.1,0.1,0.3,0.9,1.3,1.5,1.5,1.5],
  [0.1,0,0.1,0.1,0.2,0.5,1.0,1.1,1.2,1.2],
  [0.1,0,0.1,0.1,0.2,0.3,0.7,1.0,1.1,1.1],
  [0.1,0,0.1,0.1,0.1,0.2,0.4,0.6,0.8,0.9],
  [0.1,0,0.1,0.1,0.1,0.2,0.3,0.4,0.5,0.6],
  [0.1,0,0.1,0.1,0.1,0.1,0.2,0.2,0.3,0.3],
  [0.1,0,0,0.05,0.05,0.1,0.1,0.1,0.1,0.1]
];

const redSets = [t95iRed, p151sRed, t547kRed, n460kRed, t19iRed, s704lRed, s371fRed, d405nRed,
  del24Red, f486vRed, s371lRed, l452rRed, t11aRed, d3nRed, n856kRed, l452qRed,
  k147eRed, i210vRed, g257sRed, f486pRed];
const navySets = [t95iNavy, p151sNavy, t547kNavy, n460kNavy, t19iNavy, s704lNavy, s371fNavy, d405nNavy,
  del24Navy, f486vNavy, s371lNavy, l452rNavy, t11aNavy, d3nNavy, n856kNavy, l452qNavy,
  k147eNavy, i210vNavy, g257sNavy, f486pNavy];

// layout of the 5x4 grid
const colLeft = [0, 330, 661, 991];
const rowTop = [0, 288, 576, 864, 1151];
const titleGap = [15, 13, 9, 9, 8];
const titleShift = [16, 17, 17, 26, 16, 13, 14, 23, 10, 13, 0, 26, 16, 17, 10, 31, 18, 16, 15, 27];

Chart.defaults.font.family = '"Liberation Sans", Arial, sans-serif';
Chart.defaults.color = '#1a1a1a';

// draws the panel title and the light frame on the top/right
const panelTitle = {
  id: 'panelTitle',
  afterDraw(chart, args, opts) {
    const { ctx, chartArea } = chart;
    ctx.save();
    ctx.strokeStyle = '#e4e4e4';
    ctx.lineWidth = 1;
    ctx.beginPath();
    ctx.moveTo(chartArea.left, chartArea.top + 0.5);
    ctx.lineTo(chartArea.right - 0.5, chartArea.top + 0.5);
    ctx.lineTo(chartArea.right - 0.5, chartArea.bottom);
    ctx.stroke();
    ctx.font = '20px "Liberation Sans", Arial, sans-serif';
    ctx.fillStyle = '#111';
    ctx.textAlign = 'center';
    ctx.textBaseline = 'middle';
    ctx.fillText(opts.text, (chartArea.left + chartArea.right) / 2 + opts.dx, chartArea.top - opts.gap);
    ctx.restore();
  }
};

const fig = document.getElementById('fig');

titles.forEach((title, i) => {
  const row = Math.floor(i / 4), col = i % 4;
  const xMax = (i === 10) ? 49 : 45;
  const width = 73 + (xMax === 49 ? 272 : 250) + 7;

  const canvas = document.createElement('canvas');
  canvas.width = width;
  canvas.height = 288;
  canvas.style.left = colLeft[col] + 'px';
  canvas.style.top = rowTop[row] + 'px';
  fig.appendChild(canvas);

  const datasets = [];
  redSets[i].forEach(vals => datasets.push({
    data: vals.map((v, k) => ({ x: cycles[k], y: v })),
    borderColor: 'rgba(255, 0, 0, 0.9)'
  }));
  navySets[i].forEach(vals => datasets.push({
    data: vals.map((v, k) => ({ x: cycles[k], y: v })),
    borderColor: 'rgba(22, 38, 104, 0.85)'
  }));

  new Chart(canvas, {
    type: 'line',
    data: { datasets },
    options: {
      responsive: false,
      animation: false,
      layout: { padding: { top: 40, right: 7, left: 0, bottom: 0 } },
      elements: {
        point: { radius: 0 },
        line: { borderWidth: 1, cubicInterpolationMode: 'monotone' }
      },
      plugins: {
        legend: { display: false },
        tooltip: { enabled: false },
        panelTitle: { text: title, dx: titleShift[i], gap: titleGap[row] }
      },
      scales: {
        x: {
          type: 'linear',
          min: 0,
          max: xMax,
          grid: { color: '#ededed', drawTicks: false },
          border: { color: '#9a9a9a' },
          ticks: {
            stepSize: 5,
            includeBounds: false,
            autoSkip: false,
            maxRotation: 0,
            padding: 5,
            font: { size: 19 },
            callback: v => xTicks.includes(v) ? String(v) : ''
          },
          title: { display: true, text: 'Cycle', font: { size: 20, lineHeight: 0.9 }, padding: { top: 0, bottom: 0 } },
          afterFit: s => { s.height = 45; }
        },
        y: {
          min: 0,
          max: yMaxes[i],
          grid: { color: '#ededed', drawTicks: false },
          border: { color: '#9a9a9a' },
          ticks: { stepSize: yMaxes[i] / 2, padding: 3, font: { size: 19 } },
          title: { display: true, text: 'RFU', font: { size: 20 }, padding: { top: 20, bottom: 0 } },
          afterFit: s => { s.width = 73; }
        }
      }
    },
    plugins: [panelTitle]
  });
});
</script>
</body>
</html>
